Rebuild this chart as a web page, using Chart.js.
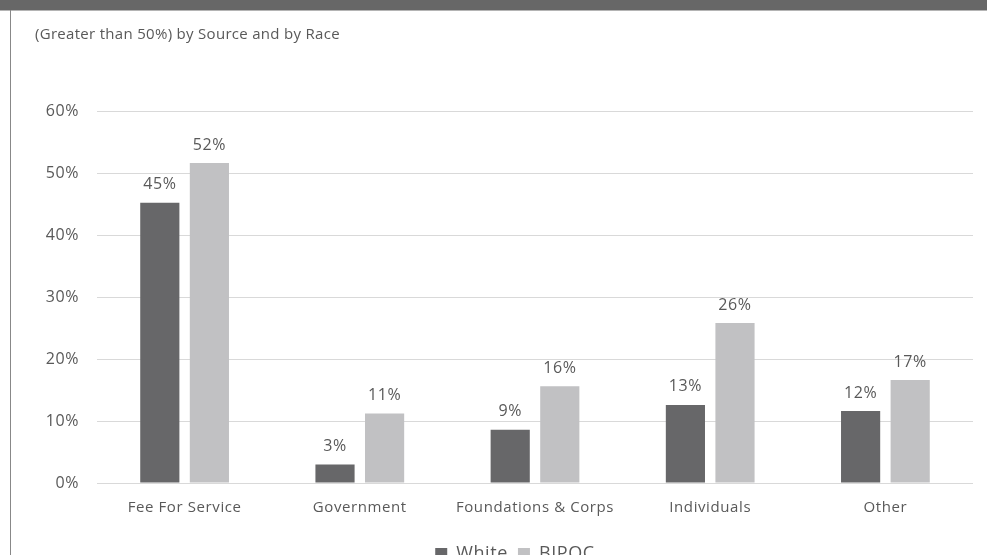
<!DOCTYPE html>
<html>
<head>
<meta charset="utf-8">
<script src="https://cdn.jsdelivr.net/npm/chart.js@4"></script>
<style>
  html, body { margin: 0; padding: 0; overflow: hidden; background: #fff; }
  #page { position: relative; width: 987px; height: 555px; overflow: hidden; }
  #topbar { position: absolute; left: 0; top: 0; width: 987px; height: 10px; background: #676767; border-bottom: 1px solid #b4b4b4; }
  #leftline { position: absolute; left: 10px; top: 10px; width: 1px; height: 545px; background: #888; }
  #subtitle { position: absolute; left: 35px; top: 23px; font: 15px "Open Sans", sans-serif; letter-spacing: 0.3px; color: #595959; line-height: 20px; }
  #chart { position: absolute; left: 11px; top: 11px; }
</style>
</head>
<body>
<div id="page">
  <div id="topbar"></div>
  <div id="leftline"></div>
  <canvas id="chart" width="976" height="566"></canvas>
  <div id="subtitle">(Greater than 50%) by Source and by Race</div>
</div>
<script>
// categories and series
var categories = ["Fee For Service", "Government", "Foundations & Corps", "Individuals", "Other"];
var white_vals = [45.2, 3.0, 8.6, 12.6, 11.6];
var bipoc_vals = [51.6, 11.2, 15.6, 25.8, 16.6];
var y_ticks = [0, 10, 20, 30, 40, 50, 60];

var textColor = "#595959";
var fontFamily = "'Open Sans', sans-serif";

// the source font is spaced out a bit, so widen canvas text
var spacing = {
	id: "spacing",
	beforeInit: function(chart) { chart.ctx.letterSpacing = "0.6px"; },
	beforeDraw: function(chart) { chart.ctx.letterSpacing = "0.6px"; }
};

// legend sits a little right of centre in the original
var legendShift = {
	id: "legendShift",
	afterLayout: function(chart) {
		chart.legend.left += 20;
		chart.legend.right += 20;
	}
};

// draw the % value above each bar
var barLabels = {
	id: "barLabels",
	afterDatasetsDraw: function(chart) {
		var ctx = chart.ctx;
		ctx.save();
		ctx.font = "16px " + fontFamily;
		ctx.fillStyle = textColor;
		ctx.textAlign = "center";
		ctx.textBaseline = "middle";
		chart.data.datasets.forEach(function(ds, i) {
			chart.getDatasetMeta(i).data.forEach(function(bar, j) {
				ctx.fillText(Math.round(ds.data[j]) + "%", bar.x, bar.y - 18);
			});
		});
		ctx.restore();
	}
};

var chart = new Chart(document.getElementById("chart"), {
	type: "bar",
	data: {
		labels: categories,
		datasets: [
			{ label: "White", data: white_vals, backgroundColor: "#676769" },
			{ label: "BIPOC", data: bipoc_vals, backgroundColor: "#c1c1c3" }
		]
	},
	options: {
		responsive: false,
		devicePixelRatio: 1,
		animation: false,
		categoryPercentage: 0.566,
		barPercentage: 0.79,
		layout: { padding: { top: 100, right: 14, bottom: 4, left: 0 } },
		scales: {
			x: {
				grid: { display: false, drawTicks: false },
				border: { display: false },
				ticks: { color: textColor, padding: 16, font: { family: fontFamily, size: 15 } },
				afterFit: function(s) { s.height = 52; }
			},
			y: {
				min: 0,
				max: 60,
				afterBuildTicks: function(s) { s.ticks = y_ticks.map(function(v) { return { value: v }; }); },
				grid: { color: "#d9d9d9", drawTicks: false },
				border: { display: false },
				ticks: {
					color: textColor,
					padding: 18,
					font: { family: fontFamily, size: 16 },
					callback: function(v) { return v + "%"; }
				},
				afterFit: function(s) { s.width = 86; }
			}
		},
		plugins: {
			legend: {
				position: "bottom",
				labels: {
					color: textColor,
					boxWidth: 12,
					boxHeight: 12,
					padding: 10,
					font: { family: fontFamily, size: 18 }
				}
			},
			tooltip: { enabled: false }
		}
	},
	plugins: [spacing, legendShift, barLabels]
});
</script>
</body>
</html>
